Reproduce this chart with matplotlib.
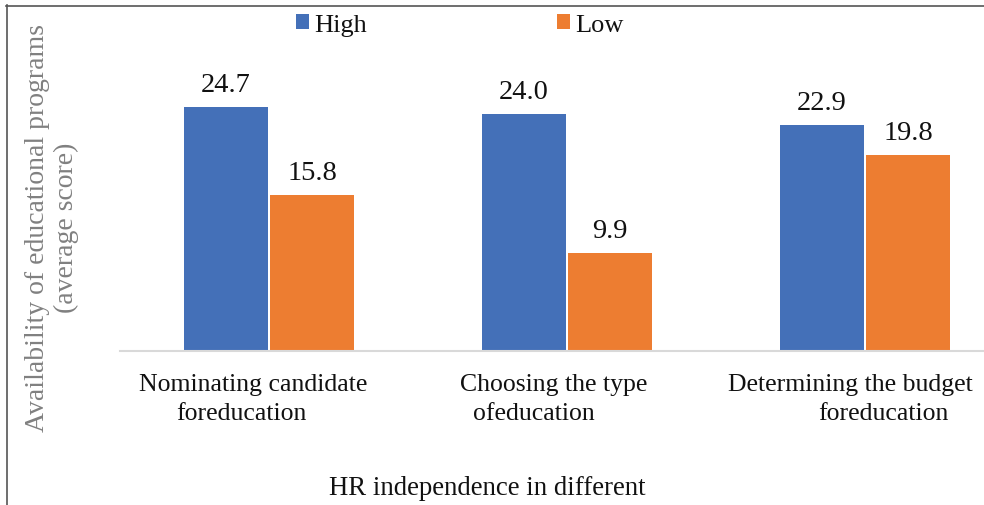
import matplotlib
matplotlib.use('Agg')
import matplotlib.pyplot as plt
import numpy as np
from matplotlib.lines import Line2D

plt.rcParams['font.family'] = ['Liberation Serif', 'DejaVu Serif']

# data
categories = [
    ('Nominating candidate', 'foreducation'),
    ('Choosing the type', 'ofeducation'),
    ('Determining the budget', 'foreducation'),
]
high = [24.7, 24.0, 22.9]
low = [15.8, 9.9, 19.8]
series_names = ['High', 'Low']

blue = '#4470B8'
orange = '#ED7D31'
ink = '#111111'

W, H = 984, 506
fig = plt.figure(figsize=(W / 100, H / 100), dpi=100)
# axes run past the right edge, the source picture is cropped there
ax = fig.add_axes([120 / W, (H - 352) / H, 894 / W, 336 / H])

x = np.arange(len(categories))
bw = 0.28
b1 = ax.bar(x - 0.145, high, bw, color=blue, label=series_names[0])
b2 = ax.bar(x + 0.145, low, bw, color=orange, label=series_names[1])

ax.set_xlim(-0.5, 2.5)
ax.set_ylim(0, 34)
for s in ['top', 'right', 'left']:
    ax.spines[s].set_visible(False)
ax.spines['bottom'].set_color('#D9D9D9')
ax.spines['bottom'].set_linewidth(1.5)
ax.set_xticks([])
ax.set_yticks([])

# value labels
for bars, vals in [(b1, high), (b2, low)]:
    for rect, v in zip(bars, vals):
        ax.annotate(f'{v:.1f}', (rect.get_x() + rect.get_width() / 2, v),
                    xytext=(0, 16), textcoords='offset pixels',
                    ha='center', va='baseline', fontsize=20.5, color=ink)

# category labels, two lines each (the source wraps them unevenly)
line_offsets = [(-16, -28), (-13, -33), (-15, 18)]
for i, (l1, l2) in enumerate(categories):
    d1, d2 = line_offsets[i]
    ax.annotate(l1, (x[i], 0), xytext=(d1, -39), textcoords='offset pixels',
                ha='center', va='baseline', fontsize=18.5, color=ink,
                annotation_clip=False)
    ax.annotate(l2, (x[i], 0), xytext=(d2, -68), textcoords='offset pixels',
                ha='center', va='baseline', fontsize=18.5, color=ink,
                annotation_clip=False)

fig.text(487 / W, (H - 495) / H, 'HR independence in different',
         ha='center', va='baseline', fontsize=19.3, color=ink)

fig.text(52 / W, 1 - 228 / H, 'Availability of educational programs\n(average score)',
         rotation=90, ha='center', va='center', fontsize=20, color='#808080',
         linespacing=1.15)

leg = fig.legend(handles=[b1, b2], loc='center left',
                 bbox_to_anchor=(296 / W, 1 - 26 / H), ncol=2, frameon=False,
                 fontsize=19, handlelength=0.5, handleheight=0.5,
                 handletextpad=0.2, columnspacing=7.2, borderpad=0,
                 borderaxespad=0)
for t in leg.get_texts():
    t.set_color(ink)

# frame of the cropped source image (top and left only)
fig.add_artist(Line2D([6 / W, 1], [1 - 6.5 / H, 1 - 6.5 / H],
                      transform=fig.transFigure, color='#555555', lw=1.2))
fig.add_artist(Line2D([6.5 / W, 6.5 / W], [0, 1 - 6 / H],
                      transform=fig.transFigure, color='#555555', lw=1.2))

fig.savefig('out.png', dpi=100)
